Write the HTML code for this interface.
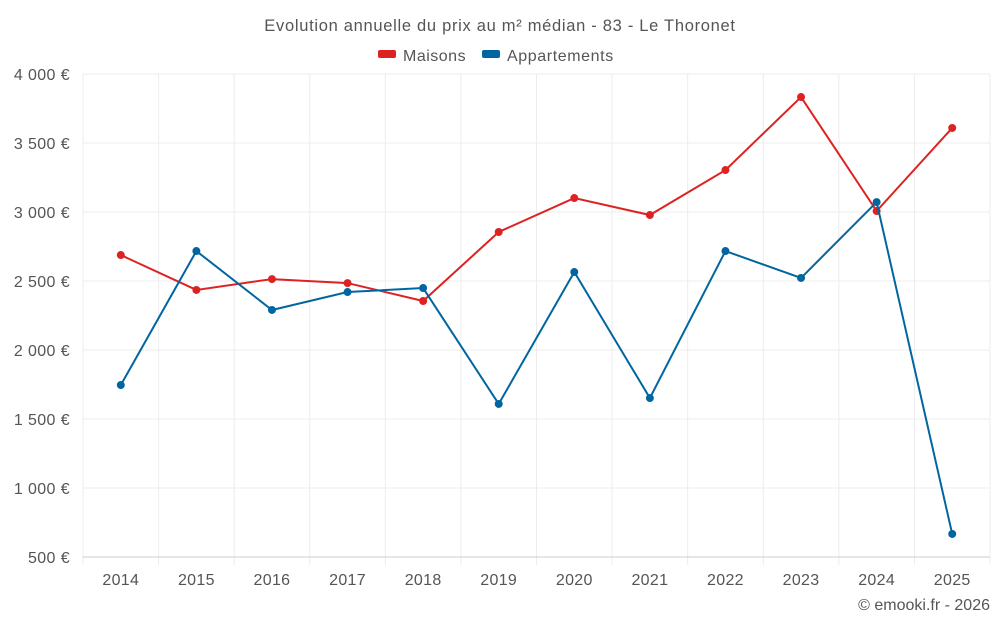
<!DOCTYPE html>
<html><head><meta charset="utf-8">
<style>
body{margin:0;background:#fff;font-family:"Liberation Sans",Roboto,sans-serif;}
svg text{font-family:"Liberation Sans",sans-serif;fill:#555;}
</style></head>
<body>
<svg id="chart" width="1000" height="625" xmlns="http://www.w3.org/2000/svg">
<text x="500" y="31" text-anchor="middle" font-size="16.5" letter-spacing="0.7">Evolution annuelle du prix au m² médian - 83 - Le Thoronet</text>
<g>
<g><rect x="378" y="50" width="18" height="8" rx="2" fill="#dd2222"/><text x="403" y="61" font-size="16" letter-spacing="0.5">Maisons</text></g>
<g><rect x="482" y="50" width="18" height="8" rx="2" fill="#0066a0"/><text x="507" y="61" font-size="16" letter-spacing="0.6">Appartements</text></g>
</g>
<g id="grid"></g><g id="axes"></g><g id="series"></g>
<text x="990" y="610" text-anchor="end" font-size="16">© emooki.fr - 2026</text>
</svg>
<script>
const years=["2014","2015","2016","2017","2018","2019","2020","2021","2022","2023","2024","2025"];
const maisons=[2688,2435,2514,2485,2355,2855,3101,2978,3304,3833,3007,3609];
const appartements=[1746,2717,2290,2420,2449,1609,2565,1652,2717,2522,3072,667];
const yTicks=[500,1000,1500,2000,2500,3000,3500,4000];
const yTickLabels=["500 €","1 000 €","1 500 €","2 000 €","2 500 €","3 000 €","3 500 €","4 000 €"];
const L=83,R=990,T=74,B=557,yMin=500,yMax=4000;
const bw=(R-L)/years.length;
const x=i=>L+bw*(i+0.5);
const y=v=>B-(v-yMin)/(yMax-yMin)*(B-T);
const NS="http://www.w3.org/2000/svg";
function mk(p,tag,attrs){const e=document.createElementNS(NS,tag);for(const k in attrs)e.setAttribute(k,attrs[k]);p.appendChild(e);return e;}
const grid=document.getElementById('grid'),axes=document.getElementById('axes'),ser=document.getElementById('series');
yTicks.forEach((t,i)=>{
 const l=mk(grid,'line',{x1:L,x2:R,y1:y(t),y2:y(t),stroke:'#ececec'});
 
 
 const tx=mk(axes,'text',{x:70,y:y(t)+6,'text-anchor':'end','font-size':16,'letter-spacing':0.4});
 tx.textContent=yTickLabels[i];
 
 
});
for(let i=0;i<=years.length;i++){
 const gx=L+bw*i;
 const l=mk(grid,'line',{x1:gx,x2:gx,y1:T,y2:B+8,stroke:'#ececec'});
 
 
}
const ax=mk(axes,'line',{x1:L,x2:R,y1:B,y2:B,stroke:'#ccc'});


years.forEach((yr,i)=>{
 const tx=mk(axes,'text',{x:x(i),y:585,'text-anchor':'middle','font-size':16,'letter-spacing':0.3});
 tx.textContent=yr;
 
 
});
function drawSeries(vals,color,name){
 const p=mk(ser,'polyline',{points:vals.map((v,i)=>x(i)+','+y(v)).join(' '),fill:'none',stroke:color,'stroke-width':2});
 
 
 vals.forEach((v,i)=>{
  const c=mk(ser,'circle',{cx:x(i),cy:y(v),r:4,fill:color});
  
  
 });
}
drawSeries(maisons,'#dd2222','maisons');
drawSeries(appartements,'#0066a0','appartements');
</script>
</body></html>
